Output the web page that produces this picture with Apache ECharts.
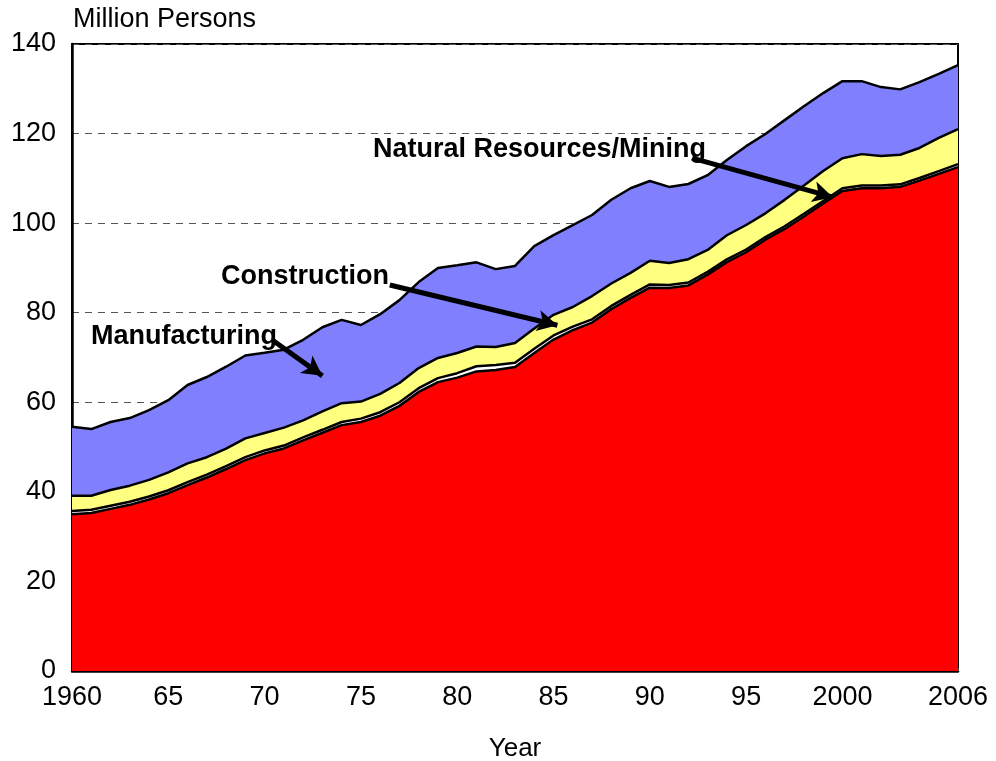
<!DOCTYPE html>
<html>
<head>
<meta charset="utf-8">
<script src="https://cdn.jsdelivr.net/npm/echarts@6/dist/echarts.min.js"></script>
<style>
  html, body { margin: 0; padding: 0; background: #fff; }
  #chart-container { width: 996px; height: 761px; }
</style>
</head>
<body>
<div id="chart-container"></div>
<script>
// employment by sector, million persons
var years = [1960, 1961, 1962, 1963, 1964, 1965, 1966, 1967, 1968, 1969,
  1970, 1971, 1972, 1973, 1974, 1975, 1976, 1977, 1978, 1979,
  1980, 1981, 1982, 1983, 1984, 1985, 1986, 1987, 1988, 1989,
  1990, 1991, 1992, 1993, 1994, 1995, 1996, 1997, 1998, 1999,
  2000, 2001, 2002, 2003, 2004, 2005, 2006];

var services = [35.0, 35.3, 36.2, 37.1, 38.3, 39.7, 41.5, 43.2, 45.1, 47.1,
  48.6, 49.7, 51.5, 53.2, 54.9, 55.6, 57.0, 59.2, 62.3, 64.5,
  65.5, 66.9, 67.2, 67.9, 71.0, 74.0, 76.1, 77.8, 80.8, 83.3,
  85.6, 85.5, 86.1, 88.5, 91.3, 93.5, 96.3, 98.7, 101.5, 104.4,
  107.2, 107.8, 107.8, 108.1, 109.5, 111.0, 112.5];

var mining = [0.75, 0.72, 0.7, 0.68, 0.67, 0.66, 0.66, 0.64, 0.64, 0.65,
  0.65, 0.64, 0.65, 0.66, 0.7, 0.75, 0.78, 0.81, 0.85, 0.9,
  1.0, 1.15, 1.13, 0.95, 0.97, 0.93, 0.78, 0.72, 0.72, 0.69,
  0.71, 0.69, 0.64, 0.61, 0.6, 0.59, 0.59, 0.6, 0.59, 0.54,
  0.6, 0.61, 0.58, 0.57, 0.59, 0.63, 0.68];

var construction = [3.4, 3.1, 3.5, 3.6, 3.7, 4.0, 4.2, 3.9, 3.9, 4.2,
  3.9, 4.0, 3.8, 4.1, 4.2, 3.8, 4.1, 4.3, 4.5, 4.5,
  4.5, 4.4, 4.0, 4.4, 4.5, 4.6, 4.4, 5.2, 5.0, 4.9,
  5.3, 4.9, 5.2, 4.9, 5.4, 5.5, 5.3, 5.9, 6.3, 6.7,
  6.7, 7.0, 6.6, 6.6, 6.7, 7.4, 7.8];

var manufacturing = [15.4, 14.9, 15.2, 15.1, 15.6, 16.1, 17.5, 17.9, 18.3, 18.5,
  17.9, 17.4, 18.0, 18.8, 18.6, 17.1, 17.8, 18.5, 19.2, 20.1,
  19.6, 18.8, 17.4, 17.2, 18.4, 17.8, 18.3, 18.1, 18.7, 18.9,
  17.8, 17.0, 16.8, 16.7, 16.8, 17.6, 17.7, 17.8, 17.7, 17.4,
  17.2, 16.3, 15.4, 14.6, 14.7, 14.3, 14.3];

var yTicks = [0, 20, 40, 60, 80, 100, 120, 140];

// annotation arrows: [year, value] start and end
var arrowLines = [
  [[1970.4, 73.9], [1973.0, 65.9]],
  [[1976.5, 86.2], [1985.2, 77.2]],
  [[1992.2, 114.5], [1999.5, 105.8]]
];

function xLabel(v) {
  v = Number(v);
  if (v === 1960 || v === 2000 || v === 2006) return String(v);
  if (v % 5 === 0 && v !== 2005) return String(v).slice(2);
  return "";
}

var dom = document.getElementById("chart-container");
var myChart = echarts.init(dom);
var font = "Liberation Sans, Arial, sans-serif";

function areaSeries(name, vals, color) {
  return {
    name: name,
    type: "line",
    stack: "total",
    data: vals,
    symbol: "none",
    lineStyle: { color: "#000", width: 2.5 },
    areaStyle: { color: color, opacity: 1 },
    emphasis: { disabled: true }
  };
}

var arrowSeries = {
  name: "arrows",
  type: "line",
  xAxisIndex: 1,
  data: [],
  symbol: "none",
  markLine: {
    silent: true,
    animation: false,
    symbol: ["none", "arrow"],
    symbolSize: [16, 20],
    label: { show: false },
    lineStyle: { color: "#000", width: 5, type: "solid" },
    data: arrowLines.map(function (a) {
      return [{ coord: a[0] }, { coord: a[1] }];
    })
  }
};

var option = {
  animation: false,
  backgroundColor: "#fff",
  grid: {
    left: 72, right: 38, top: 44, bottom: 90,
    outerBoundsMode: "none",
    containLabel: false,
    show: true, borderColor: "#000", borderWidth: 2, backgroundColor: "transparent"
  },
  xAxis: [{
    type: "category",
    data: years.map(String),
    boundaryGap: false,
    name: "Year",
    nameLocation: "middle",
    nameGap: 65,
    nameTextStyle: { fontFamily: font, fontSize: 26, color: "#000" },
    axisLine: { lineStyle: { color: "#000", width: 2.5 } },
    axisTick: { show: true, inside: true, interval: 0, length: 3, lineStyle: { color: "#444", width: 1 } },
    axisLabel: {
      formatter: xLabel, interval: 0, margin: 13,
      fontFamily: font, fontSize: 27, color: "#000"
    },
    splitLine: { show: false }
  }, {
    type: "value",
    min: years[0], max: years[years.length - 1],
    show: false
  }],
  yAxis: {
    type: "value",
    min: yTicks[0], max: yTicks[yTicks.length - 1], interval: 20,
    axisLine: { show: true, lineStyle: { color: "#000", width: 2.5 } },
    axisTick: { show: false },
    axisLabel: { margin: 16, fontFamily: font, fontSize: 27, color: "#000" },
    splitLine: { show: true, lineStyle: { color: "#555", width: 1, type: [7, 6] } }
  },
  graphic: [
    { type: "text", left: 73, top: 6, style: { text: "Million Persons", font: "27px " + font, fill: "#000" } },
    { type: "text", left: 373, top: 136, style: { text: "Natural Resources/Mining", font: "bold 27px " + font, fill: "#000" } },
    { type: "text", left: 221, top: 263, style: { text: "Construction", font: "bold 27px " + font, fill: "#000" } },
    { type: "text", left: 91, top: 323, style: { text: "Manufacturing", font: "bold 27px " + font, fill: "#000" } },
    { type: "text", left: 477, top: 487, style: { text: "Services", font: "bold 26px " + font, fill: "#fff" } }
  ],
  series: [
    areaSeries("Services", services, "#FF0000"),
    areaSeries("Natural Resources/Mining", mining, "#FFFFFF"),
    areaSeries("Construction", construction, "#FFFF80"),
    areaSeries("Manufacturing", manufacturing, "#8080FF"),
    arrowSeries
  ]
};

if (option && typeof option === "object") {
  myChart.setOption(option, true);
}
</script>
</body>
</html>
